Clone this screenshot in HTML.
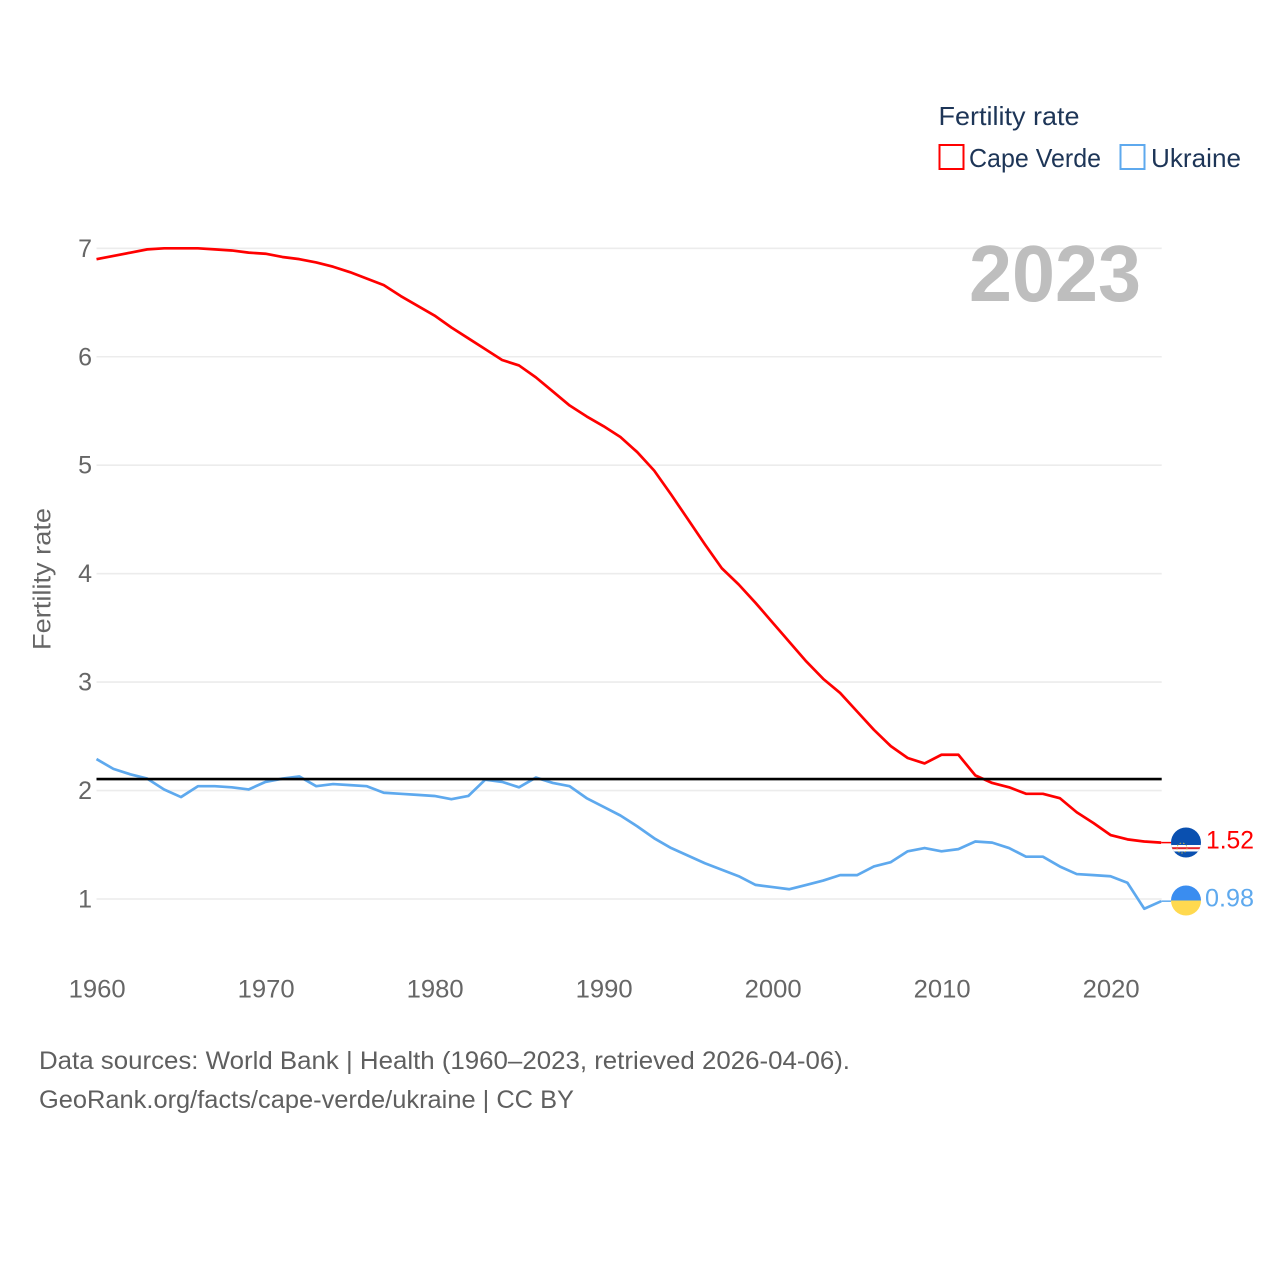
<!DOCTYPE html>
<html lang="en">
<head>
<meta charset="utf-8">
<title>Fertility rate: Cape Verde and Ukraine</title>
<style>
html,body{margin:0;padding:0;background:#fff;width:1280px;height:1280px;overflow:hidden}
svg{display:block;font-family:"Liberation Sans",sans-serif}
.tick{fill:#666;font-size:25px}
.note{fill:#5f5f5f;font-size:25px}
.leg{fill:#1d3557;font-size:26px}
</style>
</head>
<body>
<svg id="chart" width="1280" height="1280" viewBox="0 0 1280 1280" xmlns="http://www.w3.org/2000/svg">
  <defs>
    <clipPath id="flag-clip-cv"><circle cx="1186" cy="842.5" r="15"/></clipPath>
    <clipPath id="flag-clip-ua"><circle cx="1186" cy="900.5" r="15"/></clipPath>
  </defs>
  <g id="grid"></g>
  <g id="yticks"></g>
  <g id="xticks"></g>

  <text class="tick" transform="translate(50.5,579) rotate(-90)" text-anchor="middle" textLength="142" lengthAdjust="spacingAndGlyphs">Fertility rate</text>

  <text x="969" y="301" font-size="80" font-weight="700" fill="#bebebe" textLength="172" lengthAdjust="spacingAndGlyphs">2023</text>

  <g id="series"></g>
  <line id="refline" stroke="#000" stroke-width="2.6"/>

  <g clip-path="url(#flag-clip-cv)">
    <rect x="1171" y="827" width="30" height="31" fill="#0a50b0"/>
    <rect x="1171" y="845" width="30" height="6.5" fill="#fff"/>
    <rect x="1171" y="847.2" width="30" height="2" fill="#e0242c"/>
    <circle cx="1182" cy="848" r="5" fill="none" stroke="#c9b24a" stroke-width="1" stroke-dasharray="1.5 2"/>
  </g>
  <g clip-path="url(#flag-clip-ua)">
    <rect x="1171" y="885" width="30" height="15.5" fill="#3a8df0"/>
    <rect x="1171" y="900.5" width="30" height="16" fill="#ffd94f"/>
  </g>
  <text id="label-cv" x="1206" y="848.5" font-size="25" fill="#ff0000" textLength="48" lengthAdjust="spacingAndGlyphs"></text>
  <text id="label-ua" x="1205" y="906.5" font-size="25" fill="#5ea9ee" textLength="49" lengthAdjust="spacingAndGlyphs"></text>

  <g>
    <text class="leg" x="938.5" y="125" textLength="141" lengthAdjust="spacingAndGlyphs">Fertility rate</text>
    <rect x="939.5" y="145" width="24" height="24" fill="none" stroke="#ff0000" stroke-width="2"/>
    <text class="leg" x="969" y="167" textLength="132" lengthAdjust="spacingAndGlyphs">Cape Verde</text>
    <rect x="1120.5" y="145" width="24" height="24" fill="none" stroke="#5ea9ee" stroke-width="2"/>
    <text class="leg" x="1151" y="167" textLength="90" lengthAdjust="spacingAndGlyphs">Ukraine</text>
  </g>

  <g>
    <text class="note" x="39" y="1069" textLength="811" lengthAdjust="spacingAndGlyphs">Data sources: World Bank | Health (1960–2023, retrieved 2026-04-06).</text>
    <text class="note" x="39" y="1108" textLength="535" lengthAdjust="spacingAndGlyphs">GeoRank.org/facts/cape-verde/ukraine | CC BY</text>
  </g>
</svg>
<script>
const startYear = 1960;
const yTickValues = [1, 2, 3, 4, 5, 6, 7];
const xTickValues = [1960, 1970, 1980, 1990, 2000, 2010, 2020];
const replacementRate = [2.106];
const capeVerde = [6.90,6.93,6.96,6.99,7.00,7.00,7.00,6.99,6.98,6.96,6.95,6.92,6.90,6.87,6.83,6.78,6.72,6.66,6.56,6.47,6.38,6.27,6.17,6.07,5.97,5.92,5.81,5.68,5.55,5.45,5.36,5.26,5.12,4.95,4.73,4.50,4.27,4.05,3.90,3.73,3.55,3.37,3.19,3.03,2.90,2.73,2.56,2.41,2.30,2.25,2.33,2.33,2.14,2.07,2.03,1.97,1.97,1.93,1.80,1.70,1.59,1.55,1.53,1.52];
const ukraine = [2.29,2.20,2.15,2.11,2.01,1.94,2.04,2.04,2.03,2.01,2.08,2.11,2.13,2.04,2.06,2.05,2.04,1.98,1.97,1.96,1.95,1.92,1.95,2.10,2.08,2.03,2.12,2.07,2.04,1.93,1.85,1.77,1.67,1.56,1.47,1.40,1.33,1.27,1.21,1.13,1.11,1.09,1.13,1.17,1.22,1.22,1.30,1.34,1.44,1.47,1.44,1.46,1.53,1.52,1.47,1.39,1.39,1.30,1.23,1.22,1.21,1.15,0.91,0.98];

const NS = 'http://www.w3.org/2000/svg';
const left = 96.5, right = 1161.2;
const years = capeVerde.length - 1;
function xScale(year) { return left + (year - startYear) * (right - left) / years; }
function yScale(v) { return 899 - (v - 1) * (899 - 248.3) / 6; }
function mk(tag, parent, attrs) {
  const el = document.createElementNS(NS, tag);
  for (const k in attrs) el.setAttribute(k, attrs[k]);
  parent.appendChild(el);
  return el;
}

const grid = document.getElementById('grid');
const yticks = document.getElementById('yticks');
yTickValues.forEach(function (v) {
  const line = mk('line', grid, {x1: left, x2: right + 0.5, y1: yScale(v), y2: yScale(v), stroke: '#ececec', 'stroke-width': 1.6});
  
  
  const t = mk('text', yticks, {x: 92, y: yScale(v) + 8.5, 'text-anchor': 'end', class: 'tick'});
  
  
  t.textContent = v;
});

const xticks = document.getElementById('xticks');
xTickValues.forEach(function (yr) {
  const t = mk('text', xticks, {x: xScale(yr) + 0.7, y: 997.5, 'text-anchor': 'middle', class: 'tick', textLength: 57, lengthAdjust: 'spacingAndGlyphs'});
  
  
  t.textContent = yr;
});

const seriesGroup = document.getElementById('series');
function drawSeries(values, color, name) {
  const pts = values.map(function (v, i) { return xScale(startYear + i).toFixed(2) + ',' + yScale(v).toFixed(2); });
  const line = mk('polyline', seriesGroup, {points: pts.join(' '), fill: 'none', stroke: color, 'stroke-width': 2.7, 'stroke-linejoin': 'round'});
  
  
  const last = values[values.length - 1];
  const conn = mk('line', seriesGroup, {x1: right, x2: 1171, y1: yScale(last), y2: yScale(last), stroke: color, 'stroke-width': 1.5});
  
  
}
drawSeries(capeVerde, '#ff0000', 'cape-verde-line');
drawSeries(ukraine, '#5ea9ee', 'ukraine-line');

const ref = document.getElementById('refline');
ref.setAttribute('x1', left);
ref.setAttribute('x2', right + 0.5);
ref.setAttribute('y1', yScale(replacementRate[0]));
ref.setAttribute('y2', yScale(replacementRate[0]));

document.getElementById('label-cv').textContent = capeVerde[capeVerde.length - 1].toFixed(2);
document.getElementById('label-ua').textContent = ukraine[ukraine.length - 1].toFixed(2);
</script>
</body>
</html>
